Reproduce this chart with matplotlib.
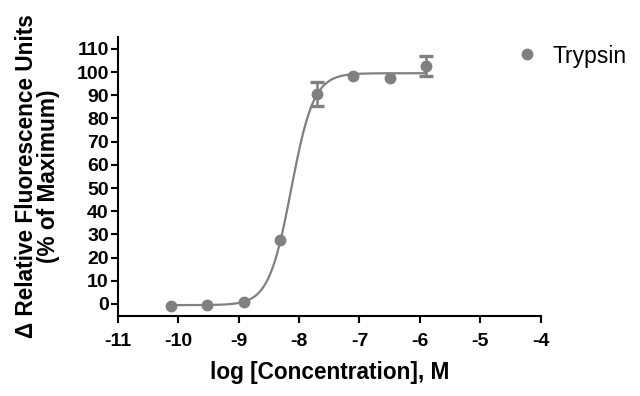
import numpy as np
import matplotlib
matplotlib.use('Agg')
import matplotlib.pyplot as plt
from matplotlib.lines import Line2D

plt.rcParams['font.family'] = ['Liberation Sans', 'DejaVu Sans']
plt.rcParams['axes.unicode_minus'] = False

# measured points (log M) and response (% of max)
log_conc = [-10.12, -9.52, -8.91, -8.31, -7.71, -7.10, -6.50, -5.90]
response = [-1.0, -0.4, 0.7, 27.6, 90.5, 98.1, 97.3, 102.7]
err = [0, 0, 0, 0, 5.2, 0, 0, 4.2]

# 4PL fit parameters
bottom = -0.5
top = 99.5
log_ec50 = -8.13
hill = 2.33

grey = '#808080'

fig = plt.figure(figsize=(6.4, 3.96), dpi=100)
ax = fig.add_axes([0.184, 0.202, 0.661, 0.705])

xfit = np.linspace(min(log_conc), max(log_conc), 400)
yfit = bottom + (top - bottom) / (1 + 10 ** ((log_ec50 - xfit) * hill))
ax.plot(xfit, yfit, color=grey, lw=1.6, zorder=2)

# error bars only where SD is visible
has_err = [e > 0 for e in err]
ex = [x for x, h in zip(log_conc, has_err) if h]
ey = [y for y, h in zip(response, has_err) if h]
ee = [e for e, h in zip(err, has_err) if h]
ax.errorbar(ex, ey, yerr=ee, fmt='none', ecolor=grey,
            elinewidth=1.8, capsize=5, capthick=2.4, zorder=3)
ax.plot(log_conc, response, 'o', color=grey, ms=7.5, zorder=4)

ax.set_xlim(-11, -4)
ax.set_ylim(-5.2, 115.2)
ax.set_xticks(range(-11, -3))
ax.set_yticks(range(0, 111, 10))

for s in ['top', 'right']:
    ax.spines[s].set_visible(False)
for s in ['left', 'bottom']:
    ax.spines[s].set_linewidth(1.5)

ax.tick_params(direction='out', length=5, width=1.5, labelsize=14)
ax.tick_params(axis='x', pad=7)
ax.tick_params(axis='y', pad=1.5)
for lab in ax.get_xticklabels() + ax.get_yticklabels():
    lab.set_fontweight('bold')

ax.set_xlabel('log [Concentration], M', fontsize=16.3, fontweight='bold', labelpad=8)
ax.set_ylabel('\u0394 Relative Fluorescence Units\n(% of Maximum)', fontsize=16.3,
              fontweight='bold', linespacing=0.95)
ax.yaxis.set_label_coords(-0.19, 0.5)
ax.yaxis.label.set_va('center')

handle = Line2D([], [], color=grey, marker='o', ls='', ms=7.5)
fig.legend([handle], ['Trypsin'], loc='center left',
           bbox_to_anchor=(515.5 / 640, 1 - 56 / 396), frameon=False,
           fontsize=16.5, handlelength=1.0, handletextpad=0.63,
           borderpad=0, borderaxespad=0)

fig.savefig('out.png', dpi=100)
